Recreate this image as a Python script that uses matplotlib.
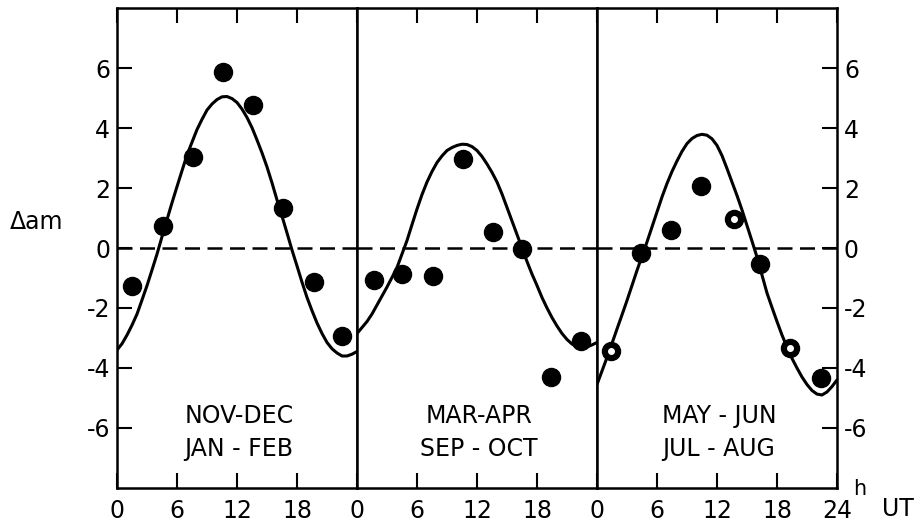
import numpy as np
import matplotlib
matplotlib.use('Agg')
import matplotlib.pyplot as plt

# curve readings, every half hour (0..24 UT)
hours = [k * 0.5 for k in range(49)]
curve_novdec = [-3.4, -3.19, -2.9, -2.57, -2.2, -1.73, -1.25, -0.73, -0.2, 0.38, 0.95, 1.51,
                2.05, 2.58, 3.1, 3.53, 3.95, 4.29, 4.6, 4.8, 4.95, 5.04, 5.05, 4.98,
                4.85, 4.63, 4.35, 4.01, 3.6, 3.17, 2.7, 2.17, 1.6, 1.06, 0.5, -0.07,
                -0.6, -1.14, -1.65, -2.09, -2.5, -2.85, -3.15, -3.36, -3.5, -3.6, -3.6, -3.54,
                -3.45]
curve_marapr = [-2.85, -2.65, -2.45, -2.2, -1.9, -1.6, -1.3, -0.98, -0.65, -0.2, 0.25, 0.78,
                1.3, 1.78, 2.2, 2.55, 2.85, 3.07, 3.25, 3.35, 3.42, 3.46, 3.45, 3.38,
                3.25, 3.05, 2.8, 2.52, 2.2, 1.8, 1.35, 0.9, 0.45, 0.0, -0.45, -0.87,
                -1.25, -1.65, -2.0, -2.32, -2.6, -2.85, -3.05, -3.2, -3.3, -3.33, -3.3, -3.23,
                -3.15]
curve_mayjun = [-4.55, -4.1, -3.65, -3.18, -2.7, -2.23, -1.75, -1.25, -0.75, -0.27, 0.2, 0.7,
                1.2, 1.7, 2.15, 2.55, 2.9, 3.22, 3.48, 3.65, 3.75, 3.79, 3.76, 3.64,
                3.42, 3.08, 2.65, 2.2, 1.75, 1.27, 0.75, 0.23, -0.3, -0.9, -1.5, -1.98,
                -2.45, -2.9, -3.3, -3.68, -4.0, -4.3, -4.55, -4.75, -4.87, -4.9, -4.8, -4.62,
                -4.4]

# observed points (3-hour bins)
pts_h_novdec = [1.5, 4.6, 7.6, 10.6, 13.6, 16.6, 19.7, 22.5]
pts_v_novdec = [-1.27, 0.73, 3.03, 5.87, 4.77, 1.33, -1.13, -2.93]
pts_h_marapr = [1.7, 4.5, 7.6, 10.6, 13.6, 16.5, 19.4, 22.4]
pts_v_marapr = [-1.08, -0.87, -0.95, 2.97, 0.55, -0.02, -4.3, -3.1]
pts_h_mayjun = [1.4, 4.4, 7.4, 10.4, 13.7, 16.3, 19.3, 22.4]
pts_v_mayjun = [-3.43, -0.17, 0.6, 2.07, 0.97, -0.53, -3.33, -4.33]
open_mayjun = [True, False, False, False, True, False, True, False]

labels_top = ['NOV-DEC', 'MAR-APR', 'MAY - JUN']
labels_bot = ['JAN - FEB', 'SEP - OCT', 'JUL - AUG']

ytick_vals = [-6, -4, -2, 0, 2, 4, 6]
ytick_labels = ['-6', '-4', '-2', '0', '2', '4', '6']

curves = [curve_novdec, curve_marapr, curve_mayjun]
pts_h = [pts_h_novdec, pts_h_marapr, pts_h_mayjun]
pts_v = [pts_v_novdec, pts_v_marapr, pts_v_mayjun]

plt.rcParams['font.family'] = ['DejaVu Sans']

fig = plt.figure(figsize=(9.23, 5.28), dpi=100)
gs = fig.add_gridspec(1, 3, left=0.1268, right=0.9068, top=0.9848, bottom=0.0758, wspace=0)
axes = [fig.add_subplot(gs[0, i]) for i in range(3)]

for i, ax in enumerate(axes):
    ax.set_xlim(0, 24)
    ax.set_ylim(-8, 8)
    ax.axhline(0, color='black', lw=1.8, dashes=(6, 3), zorder=1)
    ax.plot(hours, curves[i], color='black', lw=2.2, solid_capstyle='round',
            solid_joinstyle='round', zorder=2)
    ax.plot(pts_h[i], pts_v[i], 'o', color='black', ms=13, zorder=3)

    if i == 2:
        ax.set_xticks([0, 6, 12, 18, 24])
        ax.set_xticklabels(['0', '6', '12', '18', '24'])
    else:
        ax.set_xticks([0, 6, 12, 18])
        ax.set_xticklabels(['0', '6', '12', '18'])
    ax.tick_params(axis='x', direction='in', length=11, width=1.5, top=True,
                   labelsize=17, pad=8)

    ax.set_yticks(ytick_vals)
    ax.set_yticklabels(ytick_labels)
    ax.tick_params(axis='y', direction='in', length=11, width=1.5,
                   left=(i == 0), right=(i == 2),
                   labelleft=(i == 0), labelright=(i == 2), labelsize=17, pad=5)

    for sp in ax.spines.values():
        sp.set_linewidth(1.8)

    ax.text(12.2, -5.6, labels_top[i], ha='center', va='center', fontsize=17)
    ax.text(12.2, -6.7, labels_bot[i], ha='center', va='center', fontsize=17)

# open (dotted-centre) markers in the last panel
oh = [h for h, o in zip(pts_h_mayjun, open_mayjun) if o]
ov = [v for v, o in zip(pts_v_mayjun, open_mayjun) if o]
axes[2].plot(oh, ov, 'o', color='white', ms=4, zorder=4)

fig.text(10 / 923, 1 - 222 / 528, 'Δam', ha='left', va='center', fontsize=17)
fig.text(853 / 923, 1 - 489 / 528, 'h', ha='left', va='center', fontsize=15)
fig.text(882 / 923, 1 - 509 / 528, 'UT', ha='left', va='center', fontsize=17)

plt.savefig('out.png', dpi=100)
plt.close('all')
